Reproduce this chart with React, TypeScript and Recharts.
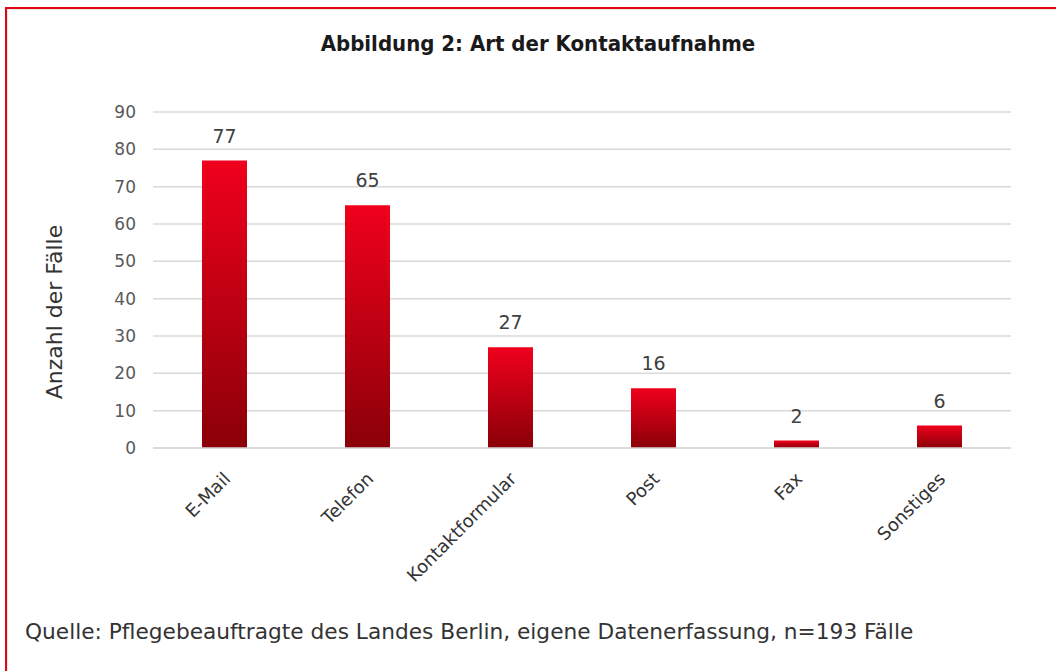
import React from "react";
import { Bar, BarChart, CartesianGrid, LabelList, XAxis, YAxis } from "recharts";

const categories = ["E-Mail", "Telefon", "Kontaktformular", "Post", "Fax", "Sonstiges"];
const counts = [77, 65, 27, 16, 2, 6];
const yTicks = [0, 10, 20, 30, 40, 50, 60, 70, 80, 90];

const data = categories.map((name, i) => ({ name, value: counts[i] }));

const FONT = "'DejaVu Sans', sans-serif";

// rotated category labels, anchored at their end just below the bar
const renderTick = (props: any) => {
  const { x, y, payload } = props;
  const tx = x + 7;
  const ty = y + 24;
  return (
    <text
      x={tx}
      y={ty}
      textAnchor="end"
      fill="#333333"
      fontSize={18}
      fontFamily={FONT}
      transform={`rotate(-45, ${tx}, ${ty})`}
    >
      {payload.value}
    </text>
  );
};

export default function App() {
  return (
    <div
      style={{
        position: "absolute",
        left: 0,
        top: 0,
        width: 1056,
        height: 671,
        overflow: "hidden",
        background: "#ffffff",
      }}
    >
      <div
        style={{
          position: "absolute",
          left: 5,
          top: 7,
          width: 1100,
          height: 720,
          border: "2px solid #e30613",
          boxShadow: "inset 1px 1px 0 #e6e6e6",
        }}
      />
      <div
        style={{
          position: "absolute",
          left: 0,
          top: 31,
          width: 1076,
          textAlign: "center",
          fontFamily: "'DejaVu Sans Condensed', sans-serif",
          fontWeight: "bold",
          fontSize: 22,
          color: "#1a1a1a",
        }}
      >
        Abbildung 2: Art der Kontaktaufnahme
      </div>
      <div style={{ position: "absolute", left: 0, top: 0 }}>
        <BarChart
          width={1056}
          height={671}
          data={data}
          margin={{ top: 112, right: 45, left: 93, bottom: 123 }}
        >
          <defs>
            <linearGradient id="barFill" x1="0" y1="0" x2="0" y2="1">
              <stop offset="0%" stopColor="#f0001c" />
              <stop offset="100%" stopColor="#8a0008" />
            </linearGradient>
          </defs>
          <CartesianGrid vertical={false} stroke="#d9d9d9" strokeWidth={1.5} />
          <XAxis
            dataKey="name"
            height={100}
            axisLine={{ stroke: "#d9d9d9", strokeWidth: 1.5 }}
            tickLine={false}
            interval={0}
            tick={renderTick}
          />
          <YAxis
            width={60}
            domain={[0, 90]}
            ticks={yTicks}
            axisLine={false}
            tickLine={false}
            tickMargin={11}
            tick={{ fill: "#595959", fontSize: 17, fontFamily: FONT }}
            label={{
              value: "Anzahl der Fälle",
              angle: -90,
              position: "insideLeft",
              dx: -44,
              dy: 32,
              style: { fill: "#333333", fontSize: 22, fontFamily: FONT, textAnchor: "middle" },
            }}
          />
          <Bar dataKey="value" fill="url(#barFill)" barSize={45} isAnimationActive={false}>
            <LabelList
              dataKey="value"
              position="top"
              offset={18}
              style={{ fill: "#404040", fontSize: 19, fontFamily: FONT }}
            />
          </Bar>
        </BarChart>
      </div>
      <div
        style={{
          position: "absolute",
          left: 25,
          top: 619,
          fontFamily: FONT,
          fontSize: 21.7,
          color: "#333333",
          whiteSpace: "nowrap",
        }}
      >
        Quelle: Pflegebeauftragte des Landes Berlin, eigene Datenerfassung, n=193 Fälle
      </div>
    </div>
  );
}
